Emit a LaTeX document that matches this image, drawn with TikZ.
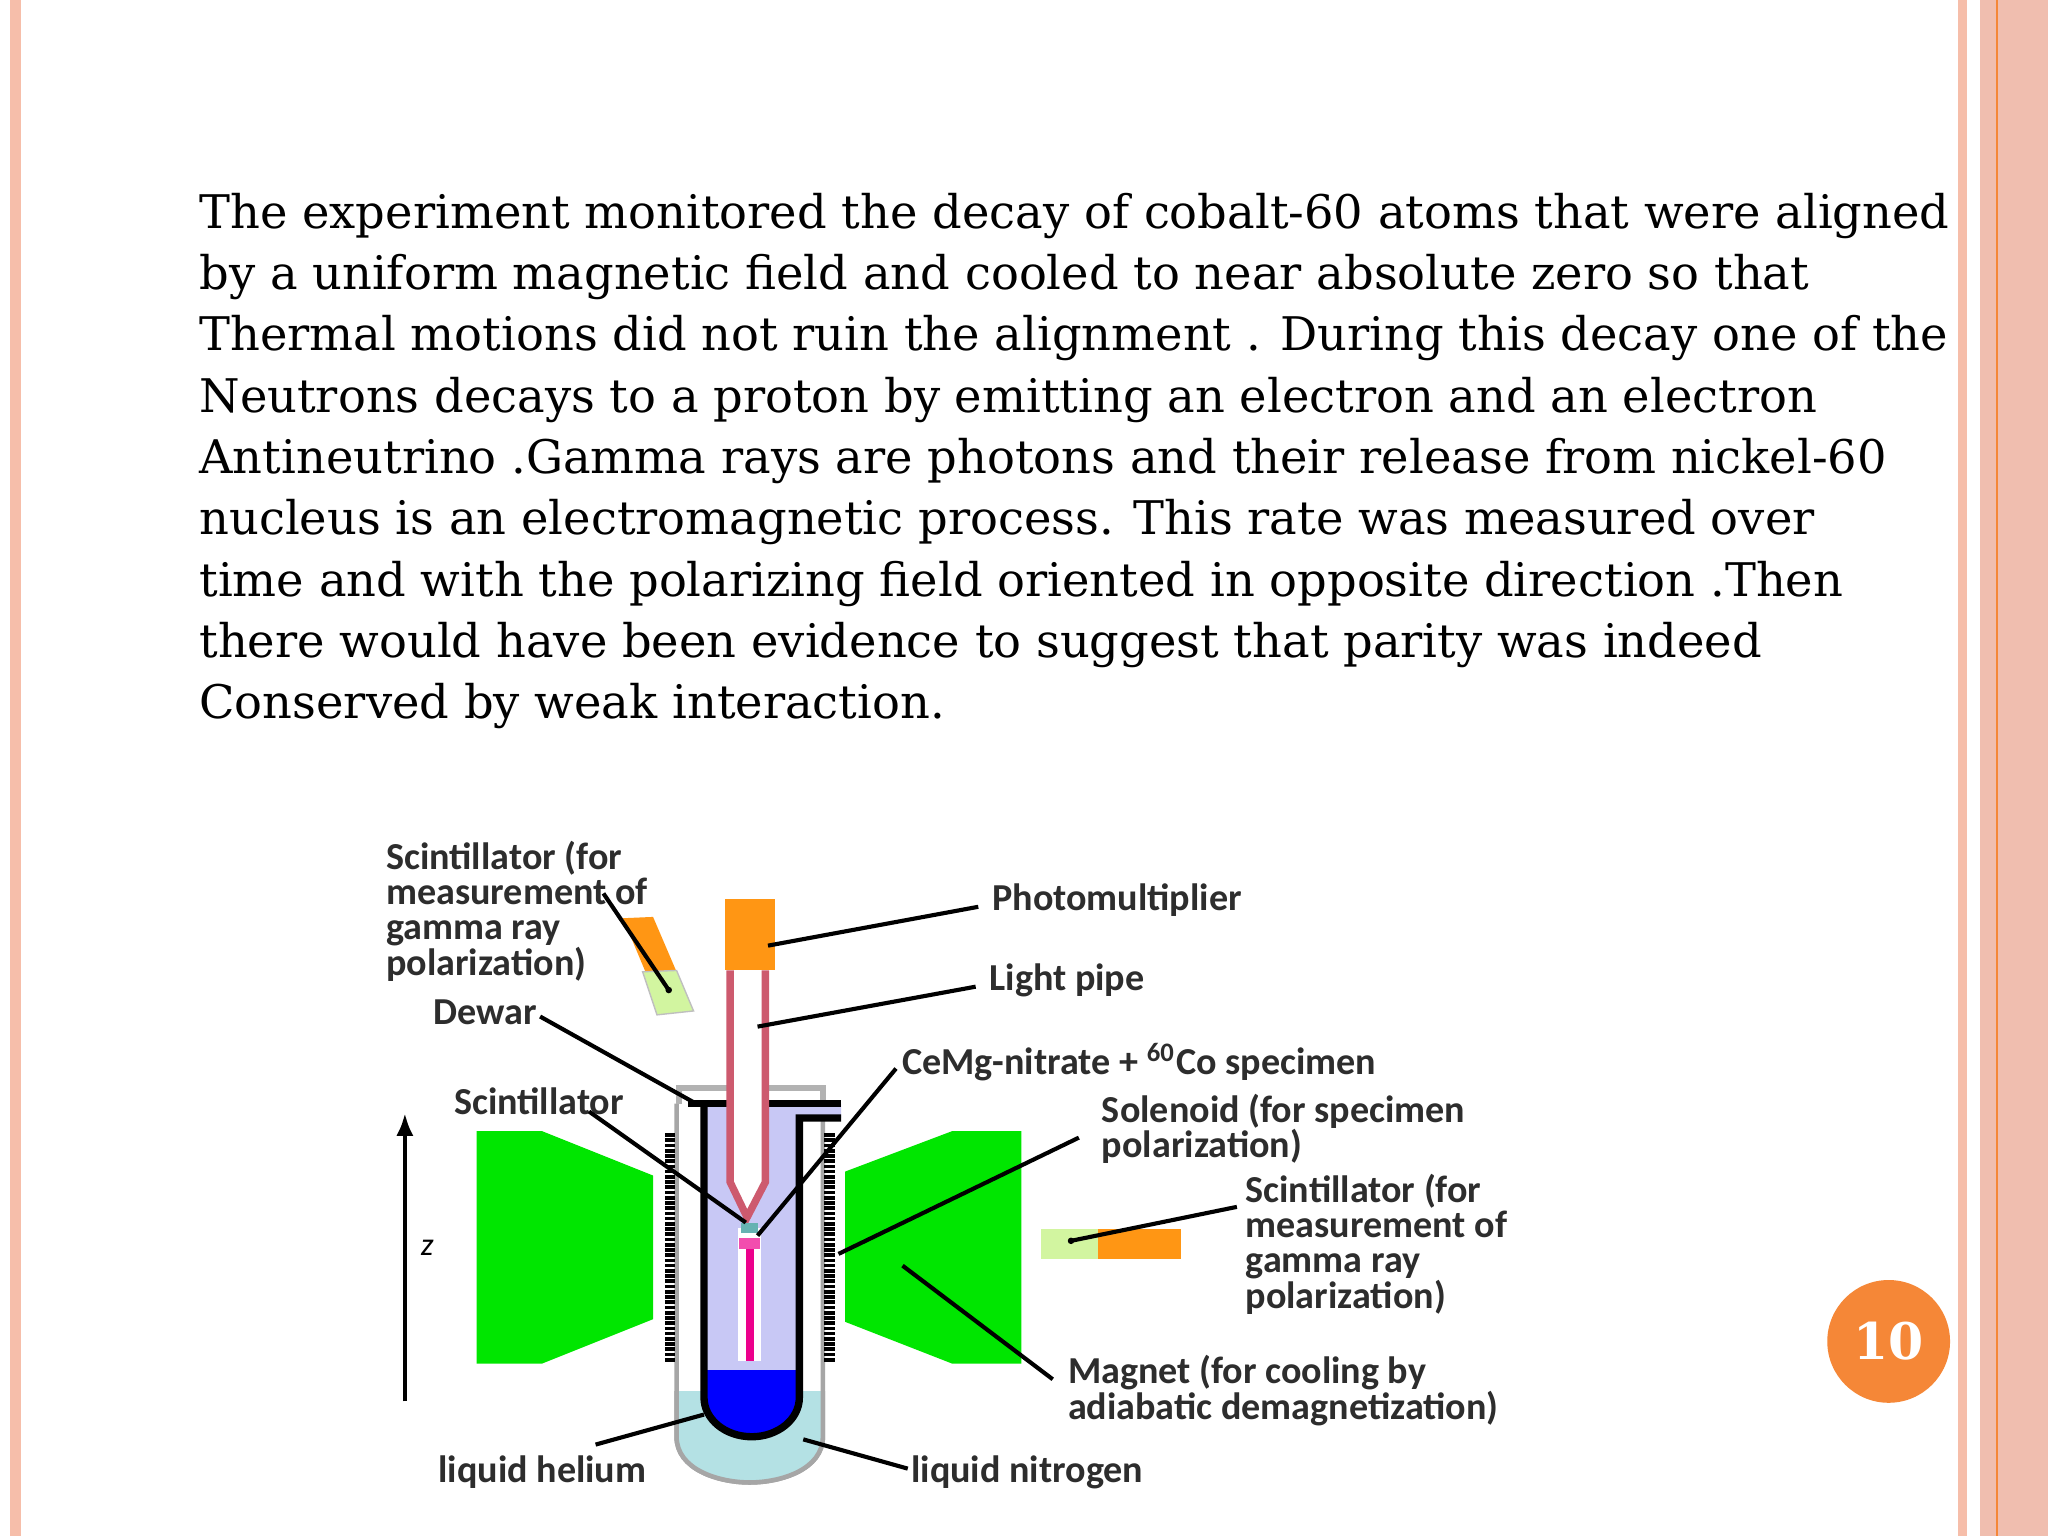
\documentclass[tikz,border=0pt]{standalone}
\usepackage{fontspec}
\usetikzlibrary{arrows.meta}
\setmainfont{DejaVu Serif}
\newfontfamily\lblfont{Carlito}
\definecolor{salmon}{RGB}{246,190,170}
\definecolor{salmond}{RGB}{240,190,175}
\definecolor{pnum}{RGB}{245,135,55}
\definecolor{mgreen}{RGB}{0,230,0}
\definecolor{lgreen}{RGB}{210,245,160}
\definecolor{pmorange}{RGB}{255,150,20}
\definecolor{lav}{RGB}{200,200,245}
\definecolor{ln2}{RGB}{180,225,228}
\definecolor{pipe}{RGB}{205,90,110}
\definecolor{lbl}{RGB}{45,45,45}
\tikzset{
  lbl/.style={font=\lblfont\bfseries\fontsize{8.3}{7.7}\selectfont, text=lbl, align=left, inner sep=0pt, anchor=north west},
  lead/.style={draw=black, line width=0.9pt},
}
\begin{document}
\begin{tikzpicture}[x=0.1mm,y=-0.1mm]
\useasboundingbox (0,0) rectangle (1568,1176);
\fill[white] (0,0) rectangle (1568,1176);
% borders
\fill[salmon] (8,0) rectangle (16,1176);
\fill[salmon] (1499,0) rectangle (1506,1176);
\fill[salmond] (1516,0) rectangle (1568,1176);
\draw[pnum, line width=0.6pt] (1529,0) -- (1529,1176);
% body text
\node[anchor=north west, inner sep=0pt, align=left, font=\fontsize{10.1}{13.36}\selectfont] (body) at (152,147) {The experiment monitored the decay of cobalt-60 atoms that were aligned\\
by a uniform magnetic field and cooled to near absolute zero so that\\
Thermal motions did not ruin the alignment . During this decay one of the\\
Neutrons decays to a proton by emitting an electron and an electron\\
Antineutrino .Gamma rays are photons and their release from nickel-60\\
nucleus is an electromagnetic process. This rate was measured over\\
time and with the polarizing field oriented in opposite direction .Then\\
there would have been evidence to suggest that parity was indeed\\
Conserved by weak interaction.};
% page number
\node[circle, fill=pnum, minimum size=94*0.1mm, inner sep=0pt, text=white, font=\bfseries\fontsize{11}{13}\selectfont] (pg) at (1446,1027) {10};

% magnets
\fill[mgreen] (365,866) -- (415,866) -- (500,900) -- (500,1010) -- (415,1044) -- (365,1044) -- cycle;
\fill[mgreen] (647,897) -- (729,866) -- (782,866) -- (782,1044) -- (729,1044) -- (647,1012) -- cycle;
% dewar outer
\path[draw=gray!70, line width=1pt, fill=white] (518,845) -- (518,1100) .. controls (518,1125) and (550,1135) .. (574,1135) .. controls (598,1135) and (630,1125) .. (630,1100) -- (630,845);
\begin{scope}
\clip (518,845) -- (518,1100) .. controls (518,1125) and (550,1135) .. (574,1135) .. controls (598,1135) and (630,1125) .. (630,1100) -- (630,845) -- cycle;
\fill[ln2] (500,1065) rectangle (650,1140);
\end{scope}
\draw[gray!70, line width=1pt] (518,1065) -- (518,1100) .. controls (518,1125) and (550,1135) .. (574,1135) .. controls (598,1135) and (630,1125) .. (630,1100) -- (630,1065);
% top plate
\draw[gray!60, line width=1.2pt] (520,845) -- (520,833) -- (630,833) -- (630,845);
% inner vessel
\path[fill=lav] (539,845) -- (539,1070) arc[start angle=180, end angle=0, x radius=36.5, y radius=30] -- (612,856) -- (644,856) -- (644,845) -- cycle;
\begin{scope}
\clip (539,845) -- (539,1070) arc[start angle=180, end angle=0, x radius=36.5, y radius=30] -- (612,845) -- cycle;
\fill[blue] (530,1049) rectangle (620,1110);
\end{scope}
\draw[black, line width=1.6pt] (644,856) -- (612,856) -- (612,1070) arc[start angle=0, end angle=180, x radius=36.5, y radius=30] -- (539,845);
\draw[black, line width=1.6pt] (527,845) -- (644,845);
% solenoid coils
\foreach \yy in {869,873,...,1041} {
  \draw[black, line width=0.8pt] (509,\yy) -- (517,\yy);
  \draw[black, line width=0.8pt] (631,\yy) -- (639,\yy);
}
% light pipe
\fill[white] (559,743) -- (586,743) -- (586,905) -- (573,935) -- (559,905) -- cycle;
\draw[pipe, line width=1.6pt] (559,743) -- (559,905) -- (572,932) -- (586,905) -- (586,743);
% specimen
\fill[white] (565,940) rectangle (583,1042);
\fill[magenta] (571,955) rectangle (577,1042);
\fill[magenta!70] (566,948) rectangle (582,956);
\fill[teal!60] (567,936) rectangle (580,944);
% photomultiplier
\fill[pmorange] (555,688) rectangle (593,743);
% top-left scintillator
\fill[pmorange] (477,703) -- (500,702) -- (518,744) -- (495,746) -- cycle;
\fill[lgreen] (492,744) -- (518,743) -- (531,774) -- (503,777) -- cycle;
\draw[gray!50, line width=0.3pt] (492,744) -- (518,743) -- (531,774) -- (503,777) -- cycle;
% right scintillator
\fill[lgreen] (797,941) rectangle (841,964);
\fill[pmorange] (841,941) rectangle (904,964);
% z axis
\coordinate (zb) at (310,1073);
\coordinate (zt) at (310,852);
\draw[-{Latex[length=5pt]}, line width=1pt] (zb) -- (zt);
\node[font=\lblfont\itshape\fontsize{7}{8}\selectfont] (zl) at (327,955) {z};

% labels
\node[lbl] (lsc1) at (295,643) {Scintillator (for\\measurement of\\gamma ray\\polarization)};
\node[lbl] (ldew) at (331,765) {Dewar};
\node[lbl] (lsc) at (347,832) {Scintillator};
\node[lbl] (lpm) at (759,676) {Photomultiplier};
\node[lbl] (llp) at (757,737) {Light pipe};
\node[lbl] (lce) at (690,798) {CeMg-nitrate + \textsuperscript{60}Co specimen};
\node[lbl] (lso) at (843,837) {Solenoid (for specimen\\polarization)};
\node[lbl] (lsc2) at (953,898) {Scintillator (for\\measurement of\\gamma ray\\polarization)};
\node[lbl] (lmag) at (817,1037) {Magnet (for cooling by\\adiabatic demagnetization)};
\node[lbl] (lhe) at (335,1114) {liquid helium};
\node[lbl] (ln) at (697,1114) {liquid nitrogen};

% leader target coordinates
\coordinate (t1) at (512,758);
\coordinate (tpm) at (588,724);
\coordinate (tlp) at (580,786);
\coordinate (tdew) at (533,845);
\coordinate (tsc) at (571,936);
\coordinate (tce) at (580,946);
\coordinate (tso) at (642,960);
\coordinate (tsc2) at (820,950);
\coordinate (tmag) at (691,969);
\coordinate (the) at (539,1083);
\coordinate (tn) at (615,1102);
\draw[lead] (462,684) -- (t1);
\fill (t1) circle (2.5);
\draw[lead] (lpm.west) ++(-10,5) -- (tpm);
\draw[lead] (llp.west) ++(-10,5) -- (tlp);
\draw[lead] (ldew.east) ++(2,3) -- (tdew);
\draw[lead] (451,851) -- (tsc);
\draw[lead] (lce.west) ++(-4,5) -- (tce);
\draw[lead] (826,871) -- (tso);
\draw[lead] (947,924) -- (tsc2);
\fill (tsc2) circle (2.5);
\draw[lead] (806,1056) -- (tmag);
\draw[lead] (456,1106) -- (the);
\draw[lead] (ln.west) ++(-2,-3) -- (tn);
\end{tikzpicture}
\end{document}
